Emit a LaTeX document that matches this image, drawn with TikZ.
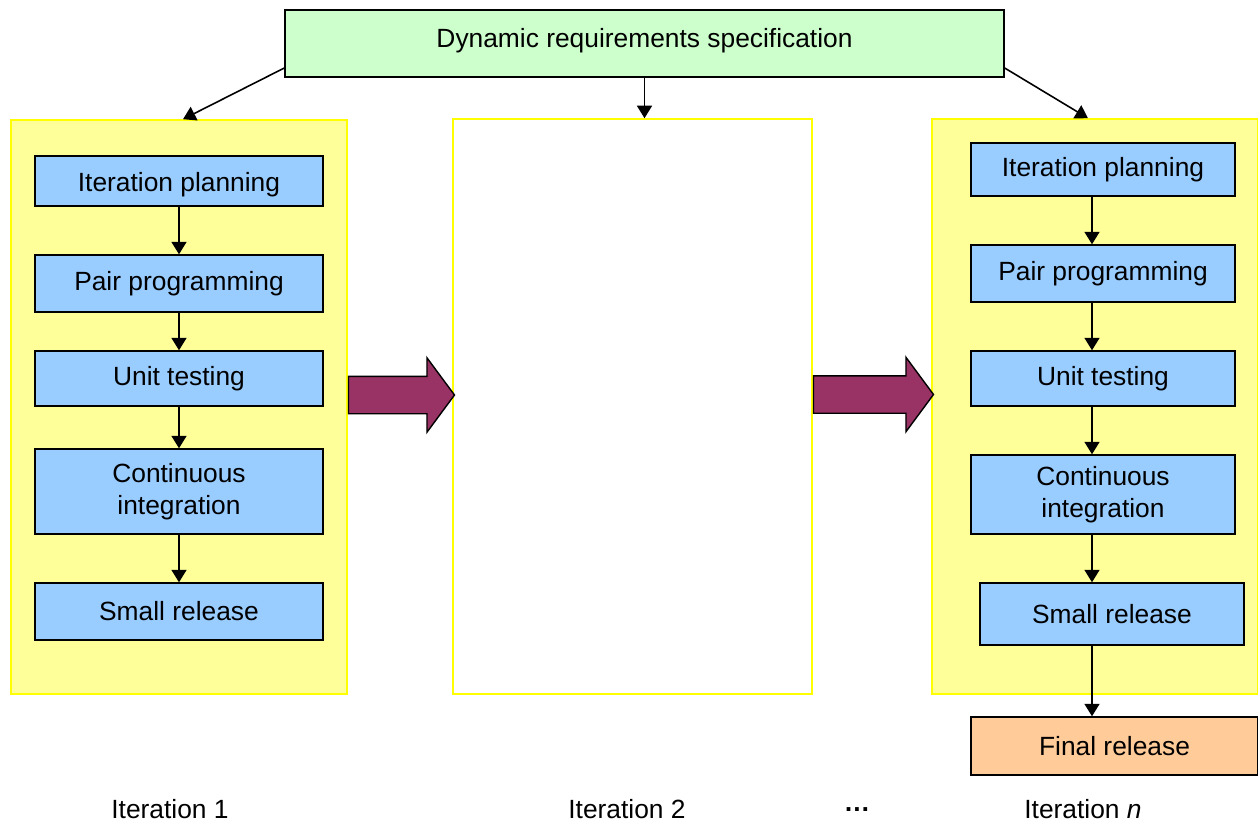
\documentclass[tikz,border=0pt]{standalone}
\usepackage{fontspec}
\setmainfont{Liberation Sans}
\usepackage{tikz}
\usetikzlibrary{arrows,arrows.meta,positioning,calc,shapes,shapes.arrows}
\usepackage{xcolor}
\definecolor{specgreen}{HTML}{CCFFCC}
\definecolor{stepblue}{HTML}{99CCFF}
\definecolor{iterfill}{HTML}{FFFF99}
\definecolor{iterline}{HTML}{FFFF00}
\definecolor{finalorange}{HTML}{FFCC99}
\definecolor{maroon}{HTML}{993366}

\begin{document}
\begin{tikzpicture}[
    font=\fontsize{15}{18}\selectfont,
    spec/.style={rectangle,minimum width=14.38cm,minimum height=1.34cm,text height=0.38cm,text depth=0.22cm,text centered,draw=black,line width=0.8pt,fill=specgreen},
    container/.style={rectangle,minimum width=6.72cm,minimum height=11.48cm,draw=iterline,line width=0.9pt,fill=iterfill},
    process/.style={rectangle,minimum width=5.76cm,minimum height=1.1cm,text centered,align=center,draw=black,line width=0.8pt,fill=stepblue},
    release/.style={rectangle,minimum width=5.74cm,minimum height=1.16cm,text centered,draw=black,line width=0.8pt,fill=finalorange},
    bigarrow/.style={single arrow,draw=black,line width=0.8pt,fill=maroon,inner sep=0pt,minimum height=2.12cm,single arrow head extend=0.37cm,single arrow tip angle=107,text height=0.72cm,text depth=0cm,anchor=tail},
    arrow/.style={-{Triangle[width=0.3cm,length=0.25cm]},line width=0.9pt}
]
\useasboundingbox (0,0) rectangle (25.16,-16.5);

% Requirements
\node[spec] (reqs) at (12.89,-0.87) {Dynamic requirements specification};

% Iterations
\node[container] (iterone) at (3.58,-8.14) {};
\node[container,fill=white,minimum width=7.18cm,minimum height=11.5cm] (itertwo) at (12.65,-8.13) {};
\node[container,minimum width=6.52cm,minimum height=11.5cm] (itern) at (21.9,-8.13) {};

% Iteration 1
\node[process,minimum height=1.0cm,text height=0.5cm,text depth=0.1cm] (plan1) at (3.58,-3.62) {Iteration planning};
\node[process,minimum height=1.14cm] (pair1) at (3.58,-5.67) {Pair programming};
\node[process] (unit1) at (3.58,-7.57) {Unit testing};
\node[process,minimum height=1.7cm] (integ1) at (3.58,-9.83) {Continuous\\integration};
\node[process,minimum height=1.14cm] (small1) at (3.58,-12.23) {Small release};

% Iteration n
\node[process,minimum width=5.28cm,minimum height=1.06cm] (plann) at (22.06,-3.39) {Iteration planning};
\node[process,minimum width=5.28cm,minimum height=1.14cm] (pairn) at (22.06,-5.47) {Pair programming};
\node[process,minimum width=5.28cm] (unitn) at (22.06,-7.57) {Unit testing};
\node[process,minimum width=5.28cm,minimum height=1.58cm] (integn) at (22.06,-9.89) {Continuous\\integration};
\node[process,minimum width=5.28cm,minimum height=1.24cm] (smalln) at (22.24,-12.28) {Small release};

% Final release
\node[release] (final) at (22.29,-14.92) {Final release};

% Between iterations
\node[bigarrow] (next1) at ([yshift=0.24cm]iterone.east) {};
\node[bigarrow,minimum height=2.4cm] (next2) at ([yshift=0.24cm]itertwo.east) {};

% Captions
\node (cap1) at (3.4,-16.18) {Iteration 1};
\node (cap2) at (12.54,-16.18) {Iteration 2};
\node[font=\fontsize{15}{18}\selectfont\bfseries] (dots) at (17.14,-16.2) {\dots};
\node (capn) at (21.66,-16.18) {Iteration \textit{n}};

% Arrows
\draw[arrow] ([yshift=-0.49cm]reqs.west) -- ([xshift=0.08cm]iterone.north);
\draw[arrow] (reqs.south) -- (reqs.south |- itertwo.north);
\draw[arrow] ([yshift=-0.49cm]reqs.east) -- ([xshift=-0.14cm]itern.north);
\draw[arrow] (plan1) -- (pair1);
\draw[arrow] (pair1) -- (unit1);
\draw[arrow] (unit1) -- (integ1);
\draw[arrow] (integ1) -- (small1);
\draw[arrow] ([xshift=-0.22cm]plann.south) -- ([xshift=-0.22cm]pairn.north);
\draw[arrow] ([xshift=-0.22cm]pairn.south) -- ([xshift=-0.22cm]unitn.north);
\draw[arrow] ([xshift=-0.22cm]unitn.south) -- ([xshift=-0.22cm]integn.north);
\draw[arrow] ([xshift=-0.22cm]integn.south) -- ([xshift=-0.4cm]smalln.north);
\draw[arrow] ([xshift=-0.4cm]smalln.south) -- ([xshift=-0.45cm]final.north);
\end{tikzpicture}
\end{document}
